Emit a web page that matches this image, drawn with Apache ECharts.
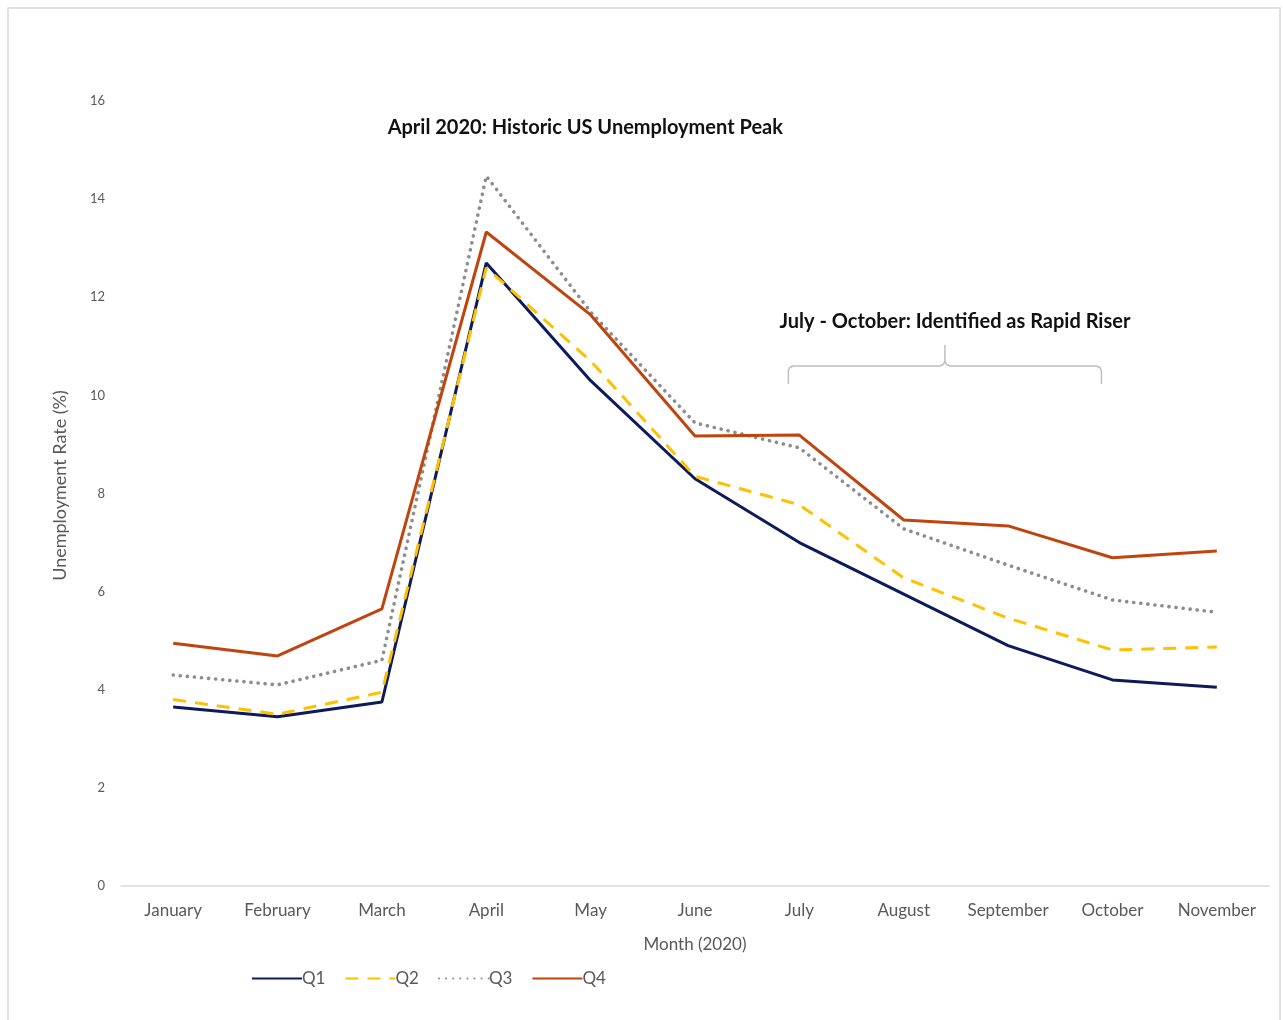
<!DOCTYPE html>
<html>
<head>
<meta charset="utf-8">
<script src="https://cdn.jsdelivr.net/npm/echarts@6/dist/echarts.min.js"></script>
<style>
html,body{margin:0;padding:0;background:#fff;}
#chart{width:1283px;height:1020px;}
</style>
</head>
<body>
<div id="chart"></div>
<script>
const months = ['January','February','March','April','May','June','July','August','September','October','November'];
const q1 = [3.65, 3.45, 3.75, 12.7, 10.3, 8.3, 7.0, 5.95, 4.9, 4.2, 4.05];
const q2 = [3.8, 3.5, 3.95, 12.6, 10.7, 8.35, 7.77, 6.28, 5.46, 4.81, 4.87];
const q3 = [4.3, 4.1, 4.6, 14.47, 11.7, 9.44, 8.93, 7.28, 6.54, 5.83, 5.58];
const q4 = [4.95, 4.69, 5.65, 13.33, 11.64, 9.17, 9.19, 7.46, 7.34, 6.69, 6.83];
const yTicks = [0, 2, 4, 6, 8, 10, 12, 14, 16];

const FONT = 'Lato';
const chart = echarts.init(document.getElementById('chart'));

function mk(name, data, color, type, width) {
  return {
    name: name, type: 'line', data: data, symbol: 'none',
    lineStyle: { color: color, width: width || 3, type: type, cap: Array.isArray(type) && type[0] < 1 ? 'round' : 'butt' },
    itemStyle: { color: color },
    z: name === 'Q2' ? 4 : 3
  };
}

const option = {
  backgroundColor: '#fff',
  animation: false,
  textStyle: { fontFamily: FONT },
  grid: { left: 121, right: 14, top: 101, bottom: 134, containLabel: false },
  legend: {
    bottom: 28, left: 246,
    itemWidth: 50, itemHeight: 12, itemGap: 19,
    itemStyle: { color: 'rgba(0,0,0,0)', borderColor: 'rgba(0,0,0,0)', borderWidth: 0 },
    textStyle: { fontFamily: FONT, fontSize: 17, color: '#595959', padding: [0, 0, 0, -5] },
    data: ['Q1', 'Q2', 'Q3', 'Q4']
  },
  xAxis: {
    type: 'category', data: months, boundaryGap: true,
    name: 'Month (2020)', nameLocation: 'middle', nameGap: 50,
    nameTextStyle: { fontFamily: FONT, fontSize: 17, color: '#595959' },
    axisLine: { show: true, lineStyle: { color: '#d9d9d9', width: 1.5 } },
    axisTick: { show: false },
    axisLabel: { interval: 0, fontFamily: FONT, fontSize: 17, color: '#595959', margin: 16 },
    splitLine: { show: false }
  },
  yAxis: {
    type: 'value', min: yTicks[0], max: yTicks[yTicks.length - 1], interval: 2,
    name: 'Unemployment Rate (%)', nameLocation: 'middle', nameGap: 52,
    nameTextStyle: { fontFamily: FONT, fontSize: 18, color: '#595959', padding: [0, 0, 0, 16] },
    axisLine: { show: false }, axisTick: { show: false },
    axisLabel: { fontFamily: FONT, fontSize: 13, color: '#595959', margin: 16 },
    splitLine: { show: false }
  },
  series: [
    mk('Q1', q1, '#0d1a5c', 'solid'),
    mk('Q2', q2, '#ffc000', [13, 9]),
    mk('Q3', q3, '#8c8c8c', [0.1, 7], 3.6),
    mk('Q4', q4, '#c0440e', 'solid')
  ]
};
chart.setOption(option);

// Annotations positioned from axis coordinates
const pJul = chart.convertToPixel({ seriesIndex: 0 }, ['July', 0]);
const pOct = chart.convertToPixel({ seriesIndex: 0 }, ['October', 0]);
const pApr = chart.convertToPixel({ seriesIndex: 0 }, ['April', 0]);
const by = chart.convertToPixel({ yAxisIndex: 0 }, 10.6);
const x1 = pJul[0] - 11, x2 = pOct[0] - 11, xm = (x1 + x2) / 2;
const braceStyle = { fill: 'none', stroke: '#bfbfbf', lineWidth: 1.5 };
const leftPts = [[x1, by + 18], [x1, by + 5], [x1 + 1.5, by + 1.5], [x1 + 5, by], [xm - 5, by], [xm - 1.5, by - 1.5], [xm, by - 5], [xm, by - 21]];
const rightPts = [[xm, by - 5], [xm + 1.5, by - 1.5], [xm + 5, by], [x2 - 5, by], [x2 - 1.5, by + 1.5], [x2, by + 5], [x2, by + 18]];

chart.setOption({
  graphic: [
    { type: 'rect', shape: { x: 8, y: 8, width: 1272, height: 1030 }, style: { fill: 'none', stroke: '#d9d9d9', lineWidth: 1.5 }, silent: true },
    { type: 'text', x: pApr[0] + 99, y: chart.convertToPixel({ yAxisIndex: 0 }, 15.45),
      style: { text: 'April 2020: Historic US Unemployment Peak', font: 'bold 20px ' + FONT, fill: '#111', align: 'center', verticalAlign: 'middle' } },
    { type: 'text', x: xm + 10, y: chart.convertToPixel({ yAxisIndex: 0 }, 11.5),
      style: { text: 'July - October: Identified as Rapid Riser', font: 'bold 20px ' + FONT, fill: '#111', align: 'center', verticalAlign: 'middle' } },
    { type: 'polyline', shape: { points: leftPts }, style: braceStyle, silent: true },
    { type: 'polyline', shape: { points: rightPts }, style: braceStyle, silent: true }
  ]
});
</script>
</body>
</html>
